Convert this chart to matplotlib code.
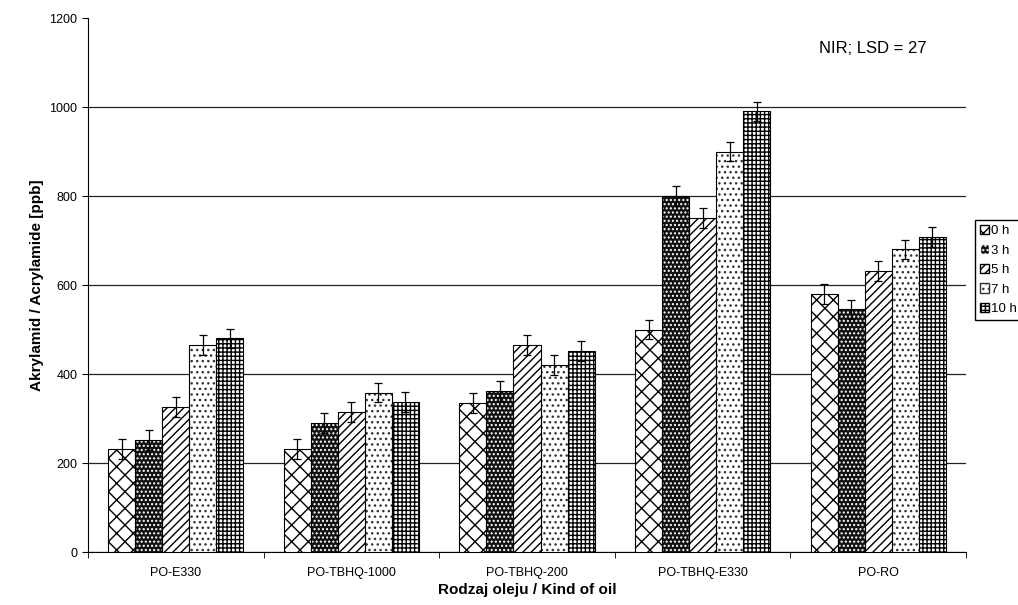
import numpy as np
import matplotlib.pyplot as plt
from matplotlib.patches import Patch

plt.rcParams['font.family'] = ['Liberation Sans', 'DejaVu Sans']
plt.rcParams['hatch.linewidth'] = 1.0

# Dane: zawartość akrylamidu [ppb] wg rodzaju oleju i czasu smażenia
oleje = ['PO-E330', 'PO-TBHQ-1000', 'PO-TBHQ-200', 'PO-TBHQ-E330', 'PO-RO']
czasy = ['0 h', '3 h', '5 h', '7 h', '10 h']

h0 = [232, 232, 335, 500, 580]
h3 = [252, 290, 362, 800, 545]
h5 = [326, 315, 465, 750, 632]
h7 = [465, 358, 420, 900, 680]
h10 = [480, 337, 452, 990, 708]
blad = [22, 22, 22, 22, 22]

serie = [h0, h3, h5, h7, h10]
wzory = ['xx', '....', '////', '...', '++++']
wypelnienie = ['white', '#111111', 'white', 'white', 'white']
kolor_wzoru = ['black', 'white', 'black', '#333333', 'black']

fig = plt.figure(figsize=(10.18, 6.05), dpi=100)
ax = fig.add_axes([0.0864, 0.0876, 0.8626, 0.8826])

x = np.arange(len(oleje))
w = 0.154
for i, vals in enumerate(serie):
    pos = x + (i - 2) * w
    ax.bar(pos, vals, w, color=wypelnienie[i], edgecolor=kolor_wzoru[i],
           hatch=wzory[i], linewidth=0, zorder=3)
    ax.bar(pos, vals, w, fill=False, edgecolor='black', linewidth=0.8, zorder=4)
    ax.errorbar(pos, vals, yerr=blad, fmt='none', ecolor='black',
                elinewidth=0.9, capsize=3, capthick=0.9, zorder=5)

ax.set_xlim(-0.5, len(oleje) - 0.5)
ax.set_ylim(0, 1200)
ax.set_yticks(np.arange(0, 1201, 200))
ax.yaxis.grid(True, color='#222222', linewidth=0.9, zorder=0)
ax.get_ygridlines()[-1].set_visible(False)
ax.set_xticks(x)
ax.set_xticklabels(oleje, fontsize=9)
ax.set_xticks(np.arange(-0.5, len(oleje)), minor=True)
ax.tick_params(axis='x', which='major', length=0, pad=11)
ax.tick_params(axis='x', which='minor', length=4, direction='out')
ax.tick_params(axis='y', labelsize=9, length=4)
for s in ['top', 'right']:
    ax.spines[s].set_visible(False)

ax.set_ylabel('Akrylamid / Acrylamide [ppb]', fontsize=11, fontweight='bold')
ax.set_xlabel('Rodzaj oleju / Kind of oil', fontsize=11, fontweight='bold', labelpad=3)
ax.text(0.833, 0.935, 'NIR; LSD = 27', transform=ax.transAxes, fontsize=12)

uchwyty = [Patch(facecolor=wypelnienie[i], edgecolor=kolor_wzoru[i], hatch=wzory[i],
                 label=czasy[i]) for i in range(5)]
leg = fig.legend(handles=uchwyty, loc='upper left', bbox_to_anchor=(0.958, 0.636),
                 fontsize=9.5, handlelength=0.7, handleheight=0.7, handletextpad=0.15,
                 labelspacing=0.55, borderpad=0.35, borderaxespad=0, fancybox=False,
                 framealpha=1, edgecolor='black')

fig.savefig('out.png', dpi=100)
